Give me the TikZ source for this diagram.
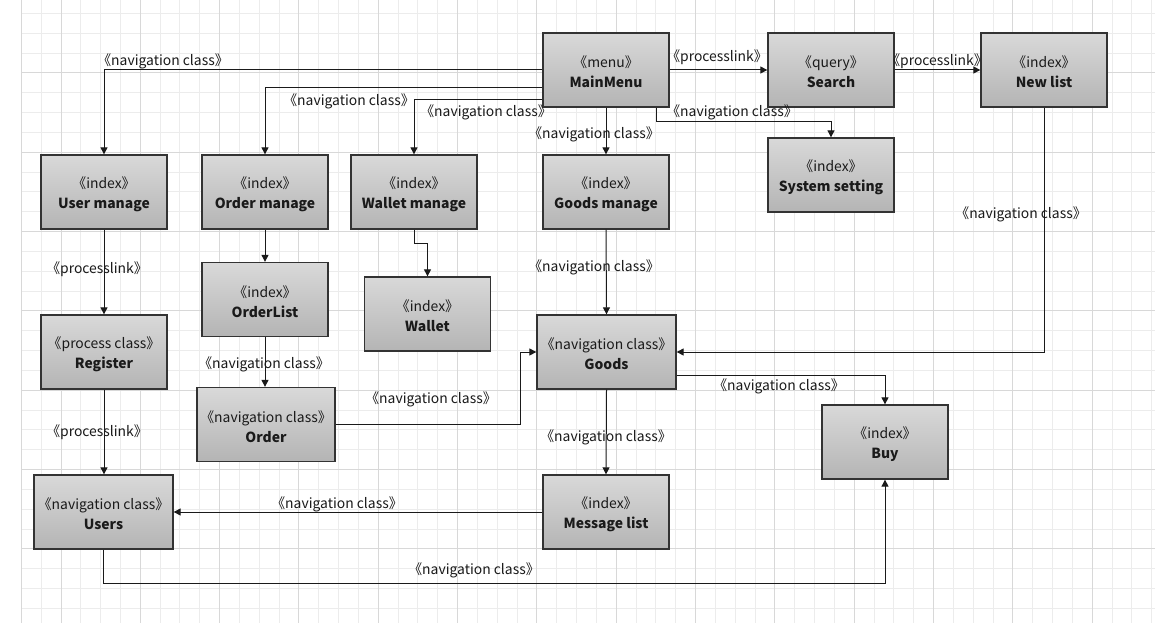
\documentclass[tikz,border=0pt]{standalone}
\usepackage{fontspec}
\setmainfont{Noto Sans CJK SC}[RawFeature=+halt]
\usetikzlibrary{arrows.meta}
\definecolor{gminor}{HTML}{ECECEC}
\definecolor{gmajor}{HTML}{D8D8D8}
\definecolor{boxtop}{HTML}{D9D9D9}
\definecolor{boxbot}{HTML}{B4B4B4}
\definecolor{edge}{HTML}{333333}
\definecolor{ink}{HTML}{1A1A1A}
\newcommand{\st}[1]{《#1》}
\tikzset{
  box/.style={draw=edge, line width=1.3pt, top color=boxtop, bottom color=boxbot,
    minimum width=126pt, minimum height=74pt, inner sep=0pt},
  wbox/.style={box, minimum width=139pt},
  boxtext/.style={inner sep=0pt, align=center, text=ink, font=\fontsize{13.9}{20}\selectfont},
  lbl/.style={inner sep=0pt, text=ink, font=\fontsize{13.9}{16}\selectfont},
  conn/.style={draw=ink, line width=1pt, -{Triangle[length=7pt,width=7pt]}},
}
\begin{document}
\begin{tikzpicture}[x=1pt,y=-1pt]
\useasboundingbox (0,0) rectangle (1155,623);
\fill[white] (0,0) rectangle (1155,623);
% grid
\foreach \j in {-2,...,55} \draw[gminor, line width=1pt] ({61+19.83*\j},0) -- ({61+19.83*\j},623);
\foreach \j in {-3,...,27} \draw[gminor, line width=1pt] (21,{73+19.83*\j}) -- (1155,{73+19.83*\j});
\foreach \k in {0,...,13} \draw[gmajor, line width=1pt] ({61+79.32*\k},0) -- ({61+79.32*\k},623);
\foreach \k in {0,...,6} \draw[gmajor, line width=1pt] (21,{73+79.32*\k}) -- (1155,{73+79.32*\k});
\draw[gmajor, line width=1pt] (21.3,0) -- (21.3,623);

% boxes
\node[box] (mainmenu) at (606,70) {};
\node[box] (search) at (831,70) {};
\node[box] (newlist) at (1044,70) {};
\node[box] (syssetting) at (831,175) {};
\node[box] (usermanage) at (104,192) {};
\node[box] (ordermanage) at (265,192) {};
\node[box] (walletmanage) at (414,192) {};
\node[box] (goodsmanage) at (606,192) {};
\node[box] (orderlist) at (265,299.5) {};
\node[box] (wallet) at (427.5,314) {};
\node[wbox] (goods) at (606.5,352) {};
\node[box] (register) at (104,352) {};
\node[wbox, minimum width=138pt] (order) at (266,424.5) {};
\node[wbox] (users) at (103.5,512) {};
\node[box] (messagelist) at (606,512) {};
\node[box] (buy) at (885,442) {};

% box texts
\node[boxtext] (t-mainmenu) at ([yshift=-2pt]mainmenu.center) {\st{menu}\\\textbf{MainMenu}};
\node[boxtext] (t-search) at ([yshift=-2pt]search.center) {\st{query}\\\textbf{Search}};
\node[boxtext] (t-newlist) at ([yshift=-2pt]newlist.center) {\st{index}\\\textbf{New list}};
\node[boxtext] (t-syssetting) at ([yshift=-2pt]syssetting.center) {\st{index}\\\textbf{System setting}};
\node[boxtext] (t-usermanage) at ([yshift=-2pt]usermanage.center) {\st{index}\\\textbf{User manage}};
\node[boxtext] (t-ordermanage) at ([yshift=-2pt]ordermanage.center) {\st{index}\\\textbf{Order manage}};
\node[boxtext] (t-walletmanage) at ([yshift=-2pt]walletmanage.center) {\st{index}\\\textbf{Wallet manage}};
\node[boxtext] (t-goodsmanage) at ([yshift=-2pt]goodsmanage.center) {\st{index}\\\textbf{Goods manage}};
\node[boxtext] (t-orderlist) at ([yshift=-2pt]orderlist.center) {\st{index}\\\textbf{OrderList}};
\node[boxtext] (t-wallet) at ([yshift=-2pt]wallet.center) {\st{index}\\\textbf{Wallet}};
\node[boxtext] (t-goods) at ([yshift=-2pt]goods.center) {\st{navigation class}\\\textbf{Goods}};
\node[boxtext] (t-register) at ([yshift=-2pt]register.center) {\st{process class}\\\textbf{Register}};
\node[boxtext] (t-order) at ([yshift=-2pt]order.center) {\st{navigation class}\\\textbf{Order}};
\node[boxtext] (t-users) at ([yshift=-2pt]users.center) {\st{navigation class}\\\textbf{Users}};
\node[boxtext] (t-messagelist) at ([yshift=-2pt]messagelist.center) {\st{index}\\\textbf{Message list}};
\node[boxtext] (t-buy) at ([yshift=-2pt]buy.center) {\st{index}\\\textbf{Buy}};

% connectors
\draw[conn] (mainmenu.west) -| (usermanage.north);
\draw[conn] ([yshift=-17.7pt]mainmenu.west) -| (ordermanage.north);
\draw[conn] ([yshift=-30pt]mainmenu.west) -| (walletmanage.north);
\draw[conn] (mainmenu.south) -- (goodsmanage.north);
\draw[conn] (mainmenu.east) -- (search.west);
\draw[conn] ([xshift=50pt]mainmenu.south) -- ++(0,13.7) -| (syssetting.north);
\draw[conn] (search.east) -- (newlist.west);
\draw[conn] (newlist.south) |- (goods.east);
\draw[conn] (goodsmanage.south) -- (goods.north);
\draw[conn] (walletmanage.south) -- ++(0,14) -| (wallet.north);
\draw[conn] (ordermanage.south) -- (orderlist.north);
\draw[conn] (orderlist.south) -- ([xshift=-1pt]order.north);
\draw[conn] (order.east) -- ++(185,0) |- (goods.west);
\draw[conn] (usermanage.south) -- (register.north);
\draw[conn] (register.south) -- ([xshift=0.5pt]users.north);
\draw[conn] (goods.south) -- (messagelist.north);
\draw[conn] (messagelist.west) -- (users.east);
\draw[conn] ([yshift=-23pt]goods.east) -| (buy.north);
\draw[conn] (users.south) -- ++(0,34) -| (buy.south);

% labels
\node[lbl] (l1) at (163,61) {\st{navigation class}};
\node[lbl] (l2) at (349,101) {\st{navigation class}};
\node[lbl] (l3) at (486,112) {\st{navigation class}};
\node[lbl] (l4) at (594,134) {\st{navigation class}};
\node[lbl] (l5) at (717,57) {\st{processlink}};
\node[lbl] (l6) at (732,112) {\st{navigation class}};
\node[lbl] (l7) at (937,61) {\st{processlink}};
\node[lbl] (l8) at (1021,214) {\st{navigation class}};
\node[lbl] (l9) at (594,267) {\st{navigation class}};
\node[lbl] (l10) at (264,364) {\st{navigation class}};
\node[lbl] (l11) at (431,399) {\st{navigation class}};
\node[lbl] (l12) at (97,269) {\st{processlink}};
\node[lbl] (l13) at (97,432) {\st{processlink}};
\node[lbl] (l14) at (606,437) {\st{navigation class}};
\node[lbl] (l15) at (337,504) {\st{navigation class}};
\node[lbl] (l16) at (779,386) {\st{navigation class}};
\node[lbl] (l17) at (474,570) {\st{navigation class}};
\end{tikzpicture}
\end{document}
